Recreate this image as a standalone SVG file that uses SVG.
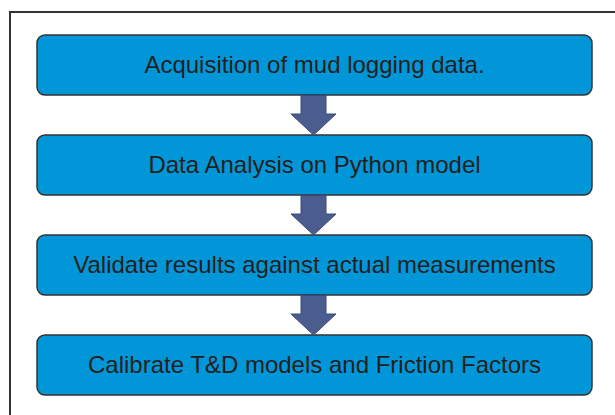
<svg xmlns="http://www.w3.org/2000/svg" width="615" height="415" viewBox="0 0 615 415">
  <style>
    .step rect { fill: #0096d8; stroke: #333333; stroke-width: 1.5; }
    .step text { font-family: "Liberation Sans", Arial, sans-serif; font-size: 24px; fill: #231f20; text-anchor: middle; }
    .flow { fill: #4b5c8f; stroke: #3b4a78; stroke-width: 1; }
  </style>
  <rect width="615" height="415" fill="#ffffff"/>
  <!-- outer frame -->
  <rect x="10" y="12" width="620" height="420" fill="none" stroke="#333333" stroke-width="2"/>

  <g id="step1" class="step">
    <rect x="37" y="35" width="555" height="60" rx="8"/>
    <text x="314.5" y="73">Acquisition of mud logging data.</text>
  </g>
  <g id="step2" class="step">
    <rect x="37" y="135" width="555" height="60" rx="8"/>
    <text x="314.5" y="173">Data Analysis on Python model</text>
  </g>
  <g id="step3" class="step">
    <rect x="37" y="235" width="555" height="60" rx="8"/>
    <text x="314.5" y="273">Validate results against actual measurements</text>
  </g>
  <g id="step4" class="step">
    <rect x="37" y="335" width="555" height="60" rx="8"/>
    <text x="314.5" y="373">Calibrate T&amp;D models and Friction Factors</text>
  </g>

  <g id="connectors">
    <path class="flow" d="M301,95.5 H326 V114 H336 L313.5,135 L291,114 H301 Z"/>
    <path class="flow" d="M301,195.5 H326 V214 H336 L313.5,235 L291,214 H301 Z"/>
    <path class="flow" d="M301,295.5 H326 V314 H336 L313.5,335 L291,314 H301 Z"/>
  </g>
</svg>
